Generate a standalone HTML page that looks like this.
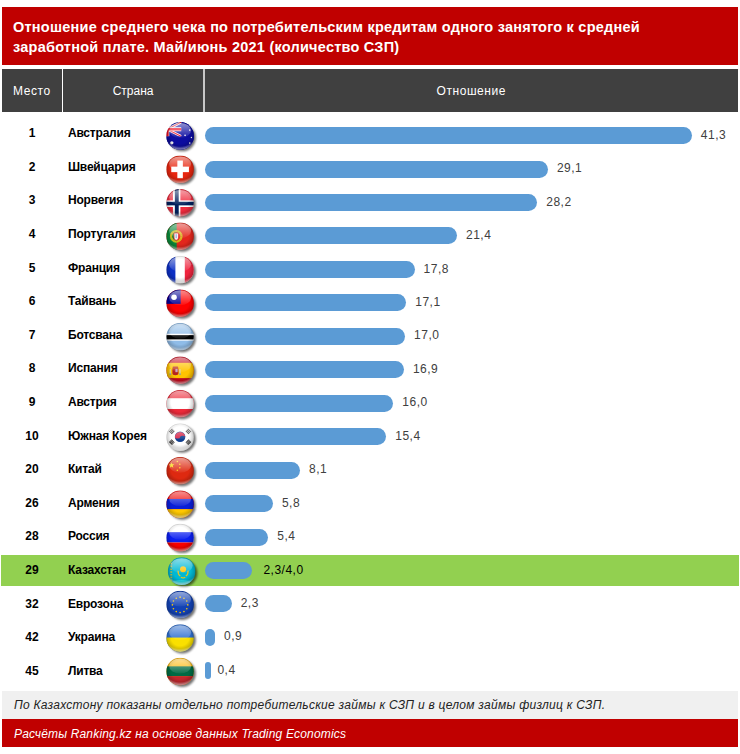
<!DOCTYPE html>
<html><head><meta charset="utf-8"><style>
html,body{margin:0;padding:0;background:#fff;}
body{width:740px;height:754px;position:relative;overflow:hidden;font-family:"Liberation Sans",sans-serif;}
div,svg{position:absolute;}
.title{left:2px;top:7px;width:735.6px;height:58.4px;background:#c00000;}
.tl{left:14px;color:#fff;font-weight:bold;font-size:14.5px;white-space:nowrap;line-height:20px;}
.hdr{top:69px;height:43px;background:#404040;color:#fff;font-size:12px;line-height:43px;text-align:center;}
.rank{left:2px;width:60px;text-align:center;font-weight:bold;font-size:12px;line-height:20px;color:#000;}
.name{left:68px;font-weight:bold;font-size:12px;line-height:20px;color:#000;white-space:nowrap;letter-spacing:-0.2px;}
.bar{left:204.5px;height:17px;border-radius:8.5px;background:#5b9bd5;}
.lab{font-size:12px;line-height:20px;color:#404040;white-space:nowrap;letter-spacing:0.5px;}
.green{left:1.3px;top:555px;width:737.7px;height:31.2px;background:#92d050;}
.fg{left:2.3px;top:691px;width:735.5px;height:28px;background:#f0f0f0;}
.fr{left:2.3px;top:719px;width:735.5px;height:27.8px;background:#c00000;}
.ft{left:14px;font-style:italic;font-size:12px;line-height:20px;white-space:nowrap;}
</style></head><body>
<svg width="0" height="0" style="position:absolute">
<defs>
<clipPath id="cc" clipPathUnits="userSpaceOnUse"><circle cx="50" cy="50" r="50"/></clipPath>
<filter id="blur" x="-30%" y="-30%" width="160%" height="160%"><feGaussianBlur stdDeviation="4"/></filter>
<radialGradient id="shade" cx="50" cy="45" r="55" gradientUnits="userSpaceOnUse">
<stop offset="0.6" stop-color="#000" stop-opacity="0"/>
<stop offset="1" stop-color="#000" stop-opacity="0.28"/>
</radialGradient>
<linearGradient id="hl" x1="0" y1="0" x2="0" y2="1">
<stop offset="0" stop-color="#fff" stop-opacity="0.55"/>
<stop offset="1" stop-color="#fff" stop-opacity="0.05"/>
</linearGradient>
<radialGradient id="rim" cx="50" cy="22" r="80" gradientUnits="userSpaceOnUse">
<stop offset="0.82" stop-color="#fff" stop-opacity="0"/>
<stop offset="0.97" stop-color="#fff" stop-opacity="0.55"/>
</radialGradient>
</defs></svg>
<div class="title"></div>
<div class="tl" style="top:16.5px;left:13px;letter-spacing:0.235px">Отношение среднего чека по потребительским кредитам одного занятого к средней</div>
<div class="tl" style="top:36.8px;left:13px;letter-spacing:0.235px">заработной плате. Май/июнь 2021 (количество СЗП)</div>
<div class="hdr" style="left:2px;width:59.8px"></div><div class="hdr" style="left:2px;width:59.8px;top:70px;background:none;letter-spacing:0.6px">Место</div>
<div class="hdr" style="left:63.2px;width:139.8px"></div><div class="hdr" style="left:63.2px;width:139.8px;top:70px;background:none">Страна</div>
<div style="left:203px;top:69px;width:2px;height:43px;background:#c8c8c8"></div>
<div class="hdr" style="left:205px;width:532.5px;top:69px;height:43px"></div><div class="hdr" style="left:205px;width:532.5px;top:70px;background:none;letter-spacing:0.55px">Отношение</div>
<div class="green"></div>
<div class="rank" style="top:123.10px">1</div><div class="name" style="top:123.10px">Австралия</div><svg class="flag" style="left:160px;top:115px" width="40" height="40" viewBox="-22.826 -25.725 144.928 144.928">
<circle cx="58" cy="57" r="49" fill="#000" opacity="0.55" filter="url(#blur)"/>
<g clip-path="url(#cc)"><rect width="100" height="100" fill="#0c0ca0"/>
<path d="M-47 0 L55 52 M55 0 L-47 52" stroke="#fff" stroke-width="9"/>
<path d="M-47 0 L55 52 M55 0 L-47 52" stroke="#e8112d" stroke-width="4"/>
<path d="M4 0 V52 M-47 26 H55" stroke="#fff" stroke-width="14"/>
<path d="M4 0 V52 M-47 26 H55" stroke="#f01020" stroke-width="9"/>
<rect x="55" y="0" width="45" height="100" fill="#0c0ca0"/><rect x="0" y="52" width="100" height="48" fill="#0c0ca0"/>
<circle cx="20" cy="75" r="6" fill="#fff"/>
<circle cx="85" cy="29" r="3" fill="#fff"/><circle cx="68" cy="48" r="3" fill="#fff"/>
<circle cx="91" cy="56" r="2.5" fill="#fff"/><circle cx="85" cy="76" r="3" fill="#fff"/>
<rect width="100" height="100" fill="url(#shade)"/>
<ellipse cx="50" cy="30" rx="40" ry="27" fill="url(#hl)"/>
<rect width="100" height="100" fill="url(#rim)"/>
</g>
<circle cx="50" cy="50" r="49.5" fill="none" stroke="rgba(0,0,0,0.15)" stroke-width="1"/>
</svg><div class="bar" style="top:127.10px;width:487.34px"></div><div class="lab" style="top:124.70px;left:700.84px;">41,3</div><div class="rank" style="top:156.70px">2</div><div class="name" style="top:156.70px">Швейцария</div><svg class="flag" style="left:160px;top:149px" width="40" height="40" viewBox="-22.826 -23.841 144.928 144.928">
<circle cx="58" cy="57" r="49" fill="#000" opacity="0.55" filter="url(#blur)"/>
<g clip-path="url(#cc)"><rect width="100" height="100" fill="#e8260f"/>
<rect x="40" y="18" width="20" height="64" fill="#fff"/><rect x="18" y="40" width="64" height="20" fill="#fff"/>
<rect width="100" height="100" fill="url(#shade)"/>
<ellipse cx="50" cy="30" rx="40" ry="27" fill="url(#hl)"/>
<rect width="100" height="100" fill="url(#rim)"/>
</g>
<circle cx="50" cy="50" r="49.5" fill="none" stroke="rgba(0,0,0,0.15)" stroke-width="1"/>
</svg><div class="bar" style="top:160.55px;width:343.38px"></div><div class="lab" style="top:158.15px;left:556.88px;">29,1</div><div class="rank" style="top:190.30px">3</div><div class="name" style="top:190.30px">Норвегия</div><svg class="flag" style="left:160px;top:182px" width="40" height="40" viewBox="-22.826 -25.580 144.928 144.928">
<circle cx="58" cy="57" r="49" fill="#000" opacity="0.55" filter="url(#blur)"/>
<g clip-path="url(#cc)"><rect width="100" height="100" fill="#ef2b3d"/>
<rect x="24" y="0" width="27" height="100" fill="#fff"/><rect x="0" y="41" width="100" height="24" fill="#fff"/>
<rect x="31" y="0" width="14" height="100" fill="#00205b"/><rect x="0" y="46" width="100" height="13" fill="#00205b"/>
<rect width="100" height="100" fill="url(#shade)"/>
<ellipse cx="50" cy="30" rx="40" ry="27" fill="url(#hl)"/>
<rect width="100" height="100" fill="url(#rim)"/>
</g>
<circle cx="50" cy="50" r="49.5" fill="none" stroke="rgba(0,0,0,0.15)" stroke-width="1"/>
</svg><div class="bar" style="top:194.00px;width:332.76px"></div><div class="lab" style="top:191.60px;left:546.26px;">28,2</div><div class="rank" style="top:223.90px">4</div><div class="name" style="top:223.90px">Португалия</div><svg class="flag" style="left:160px;top:216px" width="40" height="40" viewBox="-22.826 -23.696 144.928 144.928">
<circle cx="58" cy="57" r="49" fill="#000" opacity="0.55" filter="url(#blur)"/>
<g clip-path="url(#cc)"><rect width="100" height="100" fill="#e3261c"/><rect width="37.5" height="100" fill="#0a8a3a"/>
<circle cx="36" cy="50" r="19" fill="none" stroke="#d8c820" stroke-width="8" opacity="0.9"/>
<circle cx="36" cy="50" r="19" fill="none" stroke="#e06010" stroke-width="2" stroke-dasharray="3 6" opacity="0.8"/>
<path d="M28 38 H44 V56 Q44 64 36 64 Q28 64 28 56Z" fill="#fff" stroke="#d22" stroke-width="3"/>
<rect x="33" y="42" width="6" height="15" fill="#9ab8e0"/>
<rect width="100" height="100" fill="url(#shade)"/>
<ellipse cx="50" cy="30" rx="40" ry="27" fill="url(#hl)"/>
<rect width="100" height="100" fill="url(#rim)"/>
</g>
<circle cx="50" cy="50" r="49.5" fill="none" stroke="rgba(0,0,0,0.15)" stroke-width="1"/>
</svg><div class="bar" style="top:227.45px;width:252.52px"></div><div class="lab" style="top:225.05px;left:466.02px;">21,4</div><div class="rank" style="top:257.50px">5</div><div class="name" style="top:257.50px">Франция</div><svg class="flag" style="left:160px;top:249px" width="40" height="40" viewBox="-22.826 -25.435 144.928 144.928">
<circle cx="58" cy="57" r="49" fill="#000" opacity="0.55" filter="url(#blur)"/>
<g clip-path="url(#cc)"><rect width="100" height="100" fill="#fff"/><rect width="33" height="100" fill="#0c2fc4"/><rect x="67" width="33" height="100" fill="#f0243e"/>
<rect width="100" height="100" fill="url(#shade)"/>
<ellipse cx="50" cy="30" rx="40" ry="27" fill="url(#hl)"/>
<rect width="100" height="100" fill="url(#rim)"/>
</g>
<circle cx="50" cy="50" r="49.5" fill="none" stroke="rgba(0,0,0,0.15)" stroke-width="1"/>
</svg><div class="bar" style="top:260.90px;width:210.04px"></div><div class="lab" style="top:258.50px;left:423.54px;">17,8</div><div class="rank" style="top:291.10px">6</div><div class="name" style="top:291.10px">Тайвань</div><svg class="flag" style="left:160px;top:283px" width="40" height="40" viewBox="-22.826 -23.551 144.928 144.928">
<circle cx="58" cy="57" r="49" fill="#000" opacity="0.55" filter="url(#blur)"/>
<g clip-path="url(#cc)"><rect width="100" height="100" fill="#fe0000"/><rect width="52" height="52" fill="#000095"/>
<circle cx="28" cy="28" r="10" fill="#fff"/>
<rect width="100" height="100" fill="url(#shade)"/>
<ellipse cx="50" cy="30" rx="40" ry="27" fill="url(#hl)"/>
<rect width="100" height="100" fill="url(#rim)"/>
</g>
<circle cx="50" cy="50" r="49.5" fill="none" stroke="rgba(0,0,0,0.15)" stroke-width="1"/>
</svg><div class="bar" style="top:294.35px;width:201.78px"></div><div class="lab" style="top:291.95px;left:415.28px;">17,1</div><div class="rank" style="top:324.70px">7</div><div class="name" style="top:324.70px">Ботсвана</div><svg class="flag" style="left:160px;top:316px" width="40" height="40" viewBox="-22.826 -25.290 144.928 144.928">
<circle cx="58" cy="57" r="49" fill="#000" opacity="0.55" filter="url(#blur)"/>
<g clip-path="url(#cc)"><rect width="100" height="100" fill="#8fbce8"/><rect y="39" width="100" height="25" fill="#fff"/><rect y="44" width="100" height="15.5" fill="#000"/>
<rect width="100" height="100" fill="url(#shade)"/>
<ellipse cx="50" cy="30" rx="40" ry="27" fill="url(#hl)"/>
<rect width="100" height="100" fill="url(#rim)"/>
</g>
<circle cx="50" cy="50" r="49.5" fill="none" stroke="rgba(0,0,0,0.15)" stroke-width="1"/>
</svg><div class="bar" style="top:327.80px;width:200.60px"></div><div class="lab" style="top:325.40px;left:414.10px;">17,0</div><div class="rank" style="top:358.30px">8</div><div class="name" style="top:358.30px">Испания</div><svg class="flag" style="left:160px;top:350px" width="40" height="40" viewBox="-22.826 -23.406 144.928 144.928">
<circle cx="58" cy="57" r="49" fill="#000" opacity="0.55" filter="url(#blur)"/>
<g clip-path="url(#cc)"><rect width="100" height="100" fill="#c60b1e"/><rect y="23" width="100" height="55.5" fill="#ffc400"/>
<rect x="23" y="36" width="20" height="7" rx="2" fill="#c0392b"/>
<path d="M22 43 H44 V60 Q44 68 33 68 Q22 68 22 60Z" fill="#b5251d"/>
<rect x="33" y="45" width="8" height="12" fill="#c8a0c0"/>
<rect x="12" y="46" width="5" height="20" fill="#d8d0a0"/><rect x="47" y="46" width="5" height="20" fill="#d8d0a0"/>
<rect x="11" y="62" width="7" height="4" fill="#3a7ac0" opacity="0.6"/><rect x="46" y="62" width="7" height="4" fill="#3a7ac0" opacity="0.6"/>
<rect width="100" height="100" fill="url(#shade)"/>
<ellipse cx="50" cy="30" rx="40" ry="27" fill="url(#hl)"/>
<rect width="100" height="100" fill="url(#rim)"/>
</g>
<circle cx="50" cy="50" r="49.5" fill="none" stroke="rgba(0,0,0,0.15)" stroke-width="1"/>
</svg><div class="bar" style="top:361.25px;width:199.42px"></div><div class="lab" style="top:358.85px;left:412.92px;">16,9</div><div class="rank" style="top:391.90px">9</div><div class="name" style="top:391.90px">Австрия</div><svg class="flag" style="left:160px;top:383px" width="40" height="40" viewBox="-22.826 -25.145 144.928 144.928">
<circle cx="58" cy="57" r="49" fill="#000" opacity="0.55" filter="url(#blur)"/>
<g clip-path="url(#cc)"><rect width="100" height="100" fill="#ed2939"/><rect y="30" width="100" height="39" fill="#fff"/>
<rect width="100" height="100" fill="url(#shade)"/>
<ellipse cx="50" cy="30" rx="40" ry="27" fill="url(#hl)"/>
<rect width="100" height="100" fill="url(#rim)"/>
</g>
<circle cx="50" cy="50" r="49.5" fill="none" stroke="rgba(0,0,0,0.15)" stroke-width="1"/>
</svg><div class="bar" style="top:394.70px;width:188.80px"></div><div class="lab" style="top:392.30px;left:402.30px;">16,0</div><div class="rank" style="top:425.50px">10</div><div class="name" style="top:425.50px">Южная Корея</div><svg class="flag" style="left:160px;top:417px" width="40" height="40" viewBox="-22.826 -23.261 144.928 144.928">
<circle cx="58" cy="57" r="49" fill="#000" opacity="0.55" filter="url(#blur)"/>
<g clip-path="url(#cc)"><rect width="100" height="100" fill="#fff"/>
<circle cx="50" cy="48" r="19" fill="#0f3f8f"/>
<path d="M31 50 A19 19 0 0 1 69 50 A9.5 5 0 0 0 50 50 A9.5 5 0 0 1 31 50Z" fill="#d8284a"/><g transform="translate(20,29) rotate(-45)" fill="#2a2a2a"><rect x="-8" y="-6.8" width="16" height="3.6"/><rect x="-8" y="-1.8" width="16" height="3.6"/><rect x="-8" y="3.2" width="16" height="3.6"/></g><g transform="translate(80,29) rotate(45)" fill="#2a2a2a"><rect x="-8" y="-6.8" width="16" height="3.6"/><rect x="-8" y="-1.8" width="16" height="3.6"/><rect x="-8" y="3.2" width="16" height="3.6"/></g><g transform="translate(20,68) rotate(45)" fill="#2a2a2a"><rect x="-8" y="-6.8" width="16" height="3.6"/><rect x="-8" y="-1.8" width="16" height="3.6"/><rect x="-8" y="3.2" width="16" height="3.6"/></g><g transform="translate(80,68) rotate(-45)" fill="#2a2a2a"><rect x="-8" y="-6.8" width="16" height="3.6"/><rect x="-8" y="-1.8" width="16" height="3.6"/><rect x="-8" y="3.2" width="16" height="3.6"/></g>
<rect width="100" height="100" fill="url(#shade)"/>
<ellipse cx="50" cy="30" rx="40" ry="27" fill="url(#hl)"/>
<rect width="100" height="100" fill="url(#rim)"/>
</g>
<circle cx="50" cy="50" r="49.5" fill="none" stroke="rgba(0,0,0,0.15)" stroke-width="1"/>
</svg><div class="bar" style="top:428.15px;width:181.72px"></div><div class="lab" style="top:425.75px;left:395.22px;">15,4</div><div class="rank" style="top:459.10px">20</div><div class="name" style="top:459.10px">Китай</div><svg class="flag" style="left:160px;top:450px" width="40" height="40" viewBox="-22.826 -25.000 144.928 144.928">
<circle cx="58" cy="57" r="49" fill="#000" opacity="0.55" filter="url(#blur)"/>
<g clip-path="url(#cc)"><rect width="100" height="100" fill="#de2910"/><polygon points="19.0,19.0 21.6,26.4 29.5,26.6 23.3,31.4 25.5,38.9 19.0,34.5 12.5,38.9 14.7,31.4 8.5,26.6 16.4,26.4" fill="#ffde00"/>
<circle cx="40" cy="17" r="2.8" fill="#ffcc00"/><circle cx="49" cy="27" r="2.8" fill="#ffcc00"/>
<circle cx="49" cy="39" r="2.8" fill="#ffcc00"/><circle cx="40" cy="48" r="2.8" fill="#ffcc00"/>
<rect width="100" height="100" fill="url(#shade)"/>
<ellipse cx="50" cy="30" rx="40" ry="27" fill="url(#hl)"/>
<rect width="100" height="100" fill="url(#rim)"/>
</g>
<circle cx="50" cy="50" r="49.5" fill="none" stroke="rgba(0,0,0,0.15)" stroke-width="1"/>
</svg><div class="bar" style="top:461.60px;width:95.58px"></div><div class="lab" style="top:459.20px;left:309.08px;">8,1</div><div class="rank" style="top:492.70px">26</div><div class="name" style="top:492.70px">Армения</div><svg class="flag" style="left:160px;top:484px" width="40" height="40" viewBox="-22.826 -23.116 144.928 144.928">
<circle cx="58" cy="57" r="49" fill="#000" opacity="0.55" filter="url(#blur)"/>
<g clip-path="url(#cc)"><rect width="100" height="100" fill="#f20a0a"/><rect y="31" width="100" height="37" fill="#0a1ed8"/><rect y="68" width="100" height="32" fill="#ffc800"/>
<rect width="100" height="100" fill="url(#shade)"/>
<ellipse cx="50" cy="30" rx="40" ry="27" fill="url(#hl)"/>
<rect width="100" height="100" fill="url(#rim)"/>
</g>
<circle cx="50" cy="50" r="49.5" fill="none" stroke="rgba(0,0,0,0.15)" stroke-width="1"/>
</svg><div class="bar" style="top:495.05px;width:68.44px"></div><div class="lab" style="top:492.65px;left:281.94px;">5,8</div><div class="rank" style="top:526.30px">28</div><div class="name" style="top:526.30px">Россия</div><svg class="flag" style="left:160px;top:517px" width="40" height="40" viewBox="-22.826 -24.855 144.928 144.928">
<circle cx="58" cy="57" r="49" fill="#000" opacity="0.55" filter="url(#blur)"/>
<g clip-path="url(#cc)"><rect width="100" height="100" fill="#fff"/><rect y="30" width="100" height="37.5" fill="#0a1ef0"/><rect y="67.5" width="100" height="32.5" fill="#fa0000"/>
<rect width="100" height="100" fill="url(#shade)"/>
<ellipse cx="50" cy="30" rx="40" ry="27" fill="url(#hl)"/>
<rect width="100" height="100" fill="url(#rim)"/>
</g>
<circle cx="50" cy="50" r="49.5" fill="none" stroke="rgba(0,0,0,0.15)" stroke-width="1"/>
</svg><div class="bar" style="top:528.50px;width:63.72px"></div><div class="lab" style="top:526.10px;left:277.22px;">5,4</div><div class="rank" style="top:559.90px">29</div><div class="name" style="top:559.90px">Казахстан</div><svg class="flag" style="left:161px;top:551px" width="40" height="40" viewBox="-25.000 -22.971 144.928 144.928">
<circle cx="58" cy="57" r="49" fill="#000" opacity="0.55" filter="url(#blur)"/>
<g clip-path="url(#cc)"><rect width="100" height="100" fill="#00b8d4"/>
<path d="M12 10 V90" stroke="#d9c040" stroke-width="7" stroke-dasharray="6 4" opacity="0.85"/>
<circle cx="55" cy="43" r="11" fill="#fec50c"/>
<path d="M37 48 Q36 62 45 68 M73 48 Q74 62 65 68 M47 72 Q55 77 63 72" fill="none" stroke="#e8c020" stroke-width="4.5"/>
<ellipse cx="50" cy="92" rx="38" ry="10" fill="#40f0f0" opacity="0.6"/>
<rect width="100" height="100" fill="url(#shade)"/>
<ellipse cx="50" cy="30" rx="40" ry="27" fill="url(#hl)"/>
<rect width="100" height="100" fill="url(#rim)"/>
</g>
<circle cx="50" cy="50" r="49.5" fill="none" stroke="rgba(0,0,0,0.15)" stroke-width="1"/>
</svg><div class="bar" style="top:561.95px;width:47.20px"></div><div class="lab" style="top:559.55px;left:263.40px;color:#000;margin-top:0.8px">2,3/4,0</div><div class="rank" style="top:593.50px">32</div><div class="name" style="top:593.50px">Еврозона</div><svg class="flag" style="left:160px;top:584px" width="40" height="40" viewBox="-22.826 -24.710 144.928 144.928">
<circle cx="58" cy="57" r="49" fill="#000" opacity="0.55" filter="url(#blur)"/>
<g clip-path="url(#cc)"><rect width="100" height="100" fill="#1242b4"/><circle cx="50.0" cy="23.0" r="3" fill="#f5c400"/><circle cx="64.0" cy="26.8" r="3" fill="#f5c400"/><circle cx="74.2" cy="37.0" r="3" fill="#f5c400"/><circle cx="78.0" cy="51.0" r="3" fill="#f5c400"/><circle cx="74.2" cy="65.0" r="3" fill="#f5c400"/><circle cx="64.0" cy="75.2" r="3" fill="#f5c400"/><circle cx="50.0" cy="79.0" r="3" fill="#f5c400"/><circle cx="36.0" cy="75.2" r="3" fill="#f5c400"/><circle cx="25.8" cy="65.0" r="3" fill="#f5c400"/><circle cx="22.0" cy="51.0" r="3" fill="#f5c400"/><circle cx="25.8" cy="37.0" r="3" fill="#f5c400"/><circle cx="36.0" cy="26.8" r="3" fill="#f5c400"/>
<rect width="100" height="100" fill="url(#shade)"/>
<ellipse cx="50" cy="30" rx="40" ry="27" fill="url(#hl)"/>
<rect width="100" height="100" fill="url(#rim)"/>
</g>
<circle cx="50" cy="50" r="49.5" fill="none" stroke="rgba(0,0,0,0.15)" stroke-width="1"/>
</svg><div class="bar" style="top:595.40px;width:27.14px"></div><div class="lab" style="top:593.00px;left:240.64px;">2,3</div><div class="rank" style="top:627.10px">42</div><div class="name" style="top:627.10px">Украина</div><svg class="flag" style="left:160px;top:618px" width="40" height="40" viewBox="-22.826 -22.826 144.928 144.928">
<circle cx="58" cy="57" r="49" fill="#000" opacity="0.55" filter="url(#blur)"/>
<g clip-path="url(#cc)"><rect width="100" height="100" fill="#2f6fd0"/><rect y="48" width="100" height="52" fill="#fae000"/>
<rect width="100" height="100" fill="url(#shade)"/>
<ellipse cx="50" cy="30" rx="40" ry="27" fill="url(#hl)"/>
<rect width="100" height="100" fill="url(#rim)"/>
</g>
<circle cx="50" cy="50" r="49.5" fill="none" stroke="rgba(0,0,0,0.15)" stroke-width="1"/>
</svg><div class="bar" style="top:628.85px;width:10.62px"></div><div class="lab" style="top:626.45px;left:224.12px;">0,9</div><div class="rank" style="top:660.70px">45</div><div class="name" style="top:660.70px">Литва</div><svg class="flag" style="left:160px;top:651px" width="40" height="40" viewBox="-22.826 -24.565 144.928 144.928">
<circle cx="58" cy="57" r="49" fill="#000" opacity="0.55" filter="url(#blur)"/>
<g clip-path="url(#cc)"><rect width="100" height="100" fill="#fdb913"/><rect y="31" width="100" height="35.5" fill="#006a44"/><rect y="66.5" width="100" height="33.5" fill="#c1272d"/>
<rect width="100" height="100" fill="url(#shade)"/>
<ellipse cx="50" cy="30" rx="40" ry="27" fill="url(#hl)"/>
<rect width="100" height="100" fill="url(#rim)"/>
</g>
<circle cx="50" cy="50" r="49.5" fill="none" stroke="rgba(0,0,0,0.15)" stroke-width="1"/>
</svg><div class="bar" style="top:662.30px;width:6.50px"></div><div class="lab" style="top:659.90px;left:217.42px;">0,4</div>
<div class="fg"></div>
<div class="ft" style="top:695px;color:#222;letter-spacing:0.27px">По Казахстону показаны отдельно потребительские займы к СЗП и в целом займы физлиц к СЗП.</div>
<div class="fr"></div>
<div class="ft" style="top:723.5px;color:#fff;letter-spacing:0.17px">Расчёты Ranking.kz на основе данных Trading Economics</div>
</body></html>
